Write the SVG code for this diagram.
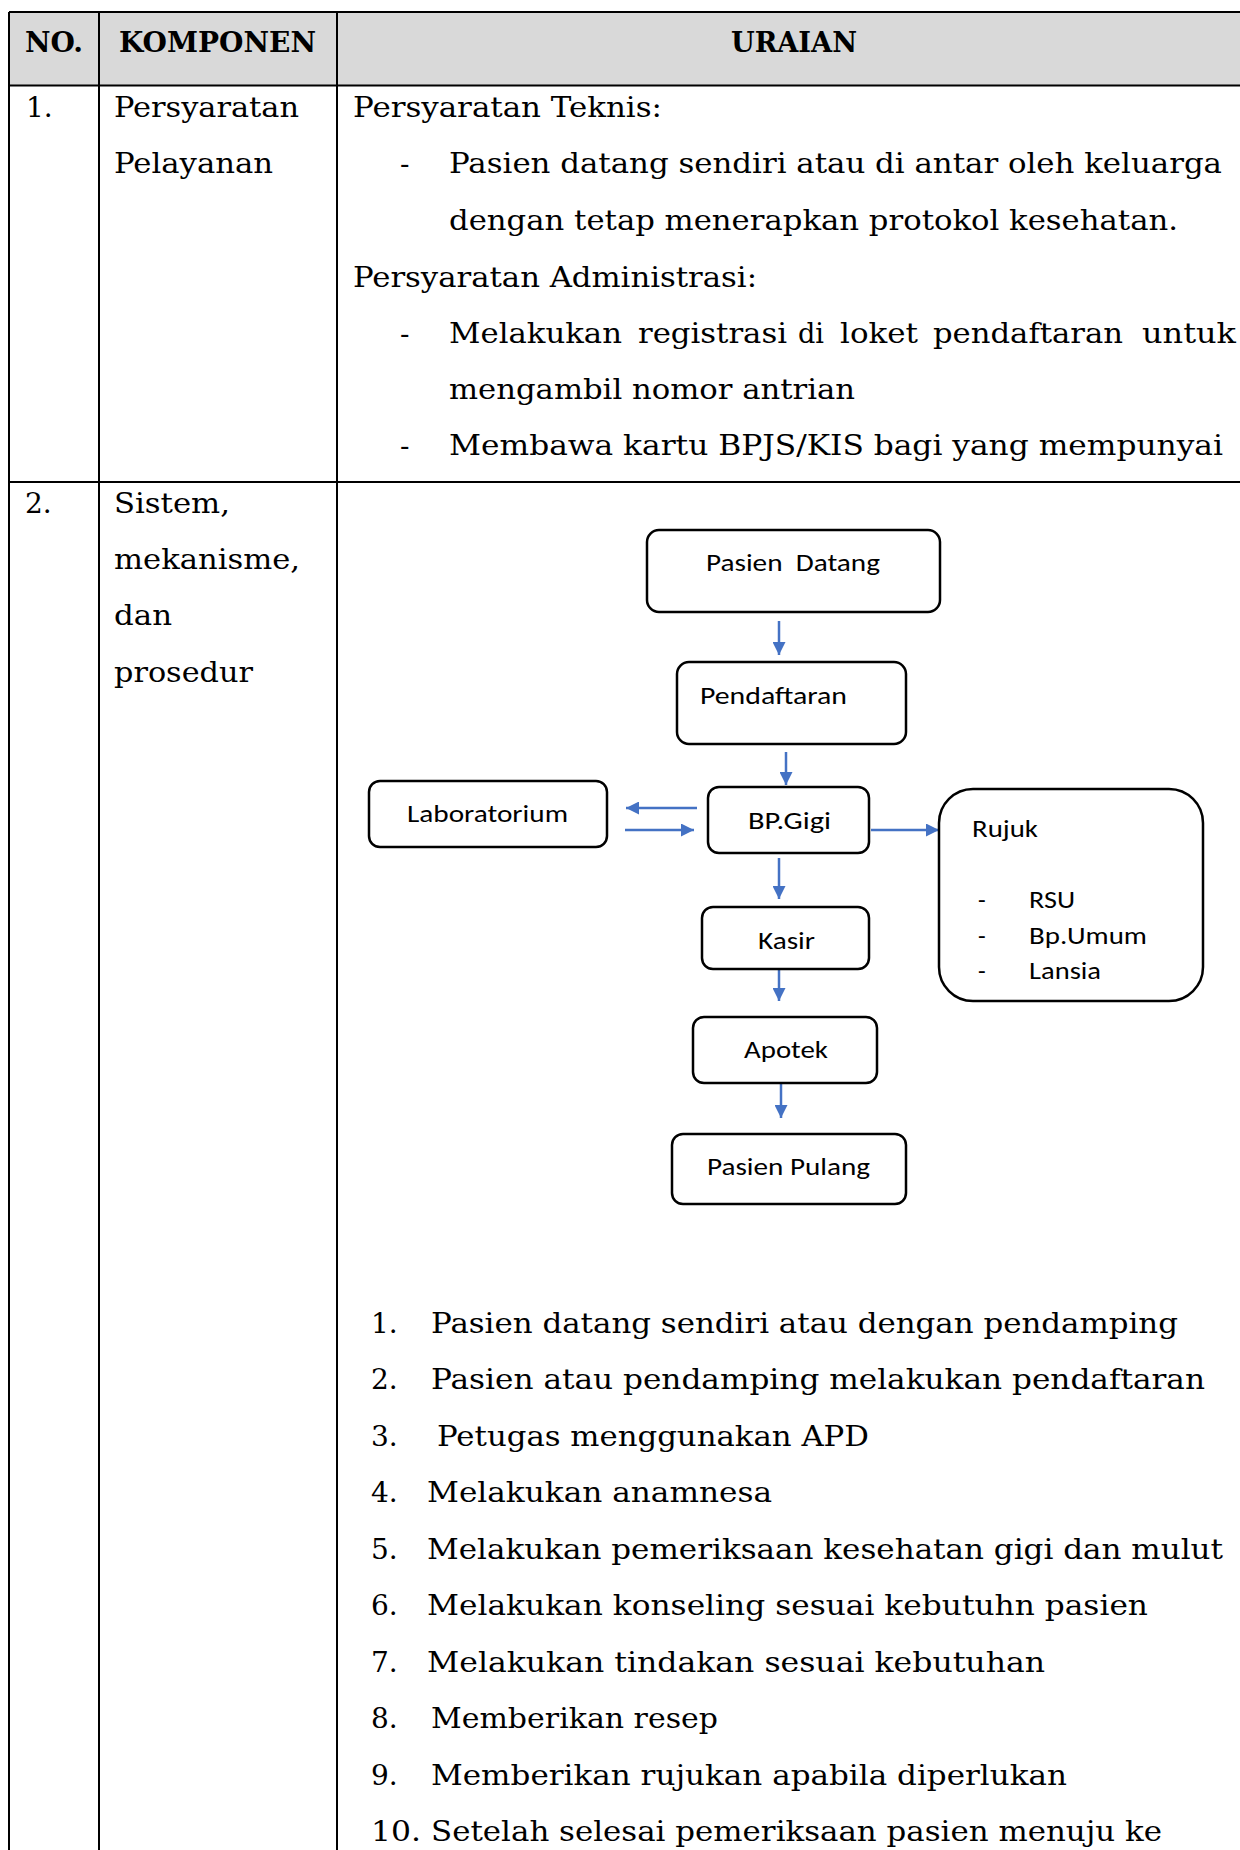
<svg xmlns="http://www.w3.org/2000/svg" width="1240" height="1850" viewBox="0 0 1240 1850">
<style>
.tbl{stroke:#000;stroke-width:2;fill:none}
.t{font-family:"DejaVu Serif","Liberation Serif",serif;font-size:28px;fill:#000}
.h{font-family:"DejaVu Serif","Liberation Serif",serif;font-size:28px;font-weight:bold;fill:#000}
.d{font-family:Carlito,"Liberation Sans",Arial,sans-serif;font-size:25px;fill:#000}
.box{fill:#fff;stroke:#000;stroke-width:2.5}
.arr{stroke:#4472C4;stroke-width:2.5;fill:none;marker-end:url(#ah)}
</style>
<defs>
<marker id="ah" viewBox="0 0 13 13" refX="13" refY="6.5" markerWidth="13" markerHeight="13" markerUnits="userSpaceOnUse" orient="auto">
<path d="M0,0 L13,6.5 L0,13 z" fill="#4472C4"/>
</marker>
</defs>
<rect x="0" y="0" width="1240" height="1850" fill="#fff"/>

<g id="table">
<rect x="9" y="12" width="1240" height="73" fill="#d9d9d9"/>
<path class="tbl" d="M9,12 H1240 M9,85.5 H1240 M9,482 H1240 M9,12 V1850 M99,12 V1850 M337,12 V1850"/>
<text class="h" x="25" y="52" textLength="58" lengthAdjust="spacingAndGlyphs">NO.</text>
<text class="h" x="119" y="52" textLength="197" lengthAdjust="spacingAndGlyphs">KOMPONEN</text>
<text class="h" x="731" y="52" textLength="126" lengthAdjust="spacingAndGlyphs">URAIAN</text>
</g>

<g id="row1">
<text class="t" x="26" y="117">1.</text>
<text class="t" x="114" y="117" textLength="185" lengthAdjust="spacingAndGlyphs">Persyaratan</text>
<text class="t" x="114" y="173" textLength="159" lengthAdjust="spacingAndGlyphs">Pelayanan</text>
<text class="t" x="353" y="117" textLength="309" lengthAdjust="spacingAndGlyphs">Persyaratan Teknis:</text>
<text class="t" x="400" y="173">-</text>
<text class="t" x="449" y="173" textLength="773" lengthAdjust="spacingAndGlyphs">Pasien datang sendiri atau di antar oleh keluarga</text>
<text class="t" x="449" y="230" textLength="729" lengthAdjust="spacingAndGlyphs">dengan tetap menerapkan protokol kesehatan.</text>
<text class="t" x="353" y="287" textLength="404" lengthAdjust="spacingAndGlyphs">Persyaratan Administrasi:</text>
<text class="t" x="400" y="343">-</text>
<text class="t" x="449" y="343" textLength="173" lengthAdjust="spacingAndGlyphs">Melakukan</text>
<text class="t" x="638" y="343" textLength="149" lengthAdjust="spacingAndGlyphs">registrasi</text>
<text class="t" x="798" y="343" textLength="26" lengthAdjust="spacingAndGlyphs">di</text>
<text class="t" x="840" y="343" textLength="78" lengthAdjust="spacingAndGlyphs">loket</text>
<text class="t" x="933" y="343" textLength="190" lengthAdjust="spacingAndGlyphs">pendaftaran</text>
<text class="t" x="1142" y="343" textLength="94" lengthAdjust="spacingAndGlyphs">untuk</text>
<text class="t" x="449" y="399" textLength="406" lengthAdjust="spacingAndGlyphs">mengambil nomor antrian</text>
<text class="t" x="400" y="455">-</text>
<text class="t" x="449" y="455" textLength="774" lengthAdjust="spacingAndGlyphs">Membawa kartu BPJS/KIS bagi yang mempunyai</text>
</g>

<g id="row2">
<text class="t" x="25" y="513">2.</text>
<text class="t" x="114" y="513" textLength="116" lengthAdjust="spacingAndGlyphs">Sistem,</text>
<text class="t" x="114" y="569" textLength="186" lengthAdjust="spacingAndGlyphs">mekanisme,</text>
<text class="t" x="114" y="625" textLength="58" lengthAdjust="spacingAndGlyphs">dan</text>
<text class="t" x="114" y="682" textLength="139" lengthAdjust="spacingAndGlyphs">prosedur</text>
</g>

<g id="connectors" transform="translate(-2,0)">
<line class="arr" x1="781" y1="621" x2="781" y2="655"/>
<line class="arr" x1="788" y1="752" x2="788" y2="785"/>
<line class="arr" x1="699" y1="808" x2="628" y2="808"/>
<line class="arr" x1="627" y1="830" x2="696" y2="830"/>
<line class="arr" x1="873" y1="830" x2="941" y2="830"/>
<line class="arr" x1="781" y1="858" x2="781" y2="899"/>
<line class="arr" x1="781" y1="969" x2="781" y2="1001"/>
<line class="arr" x1="783" y1="1084" x2="783" y2="1118"/>
</g>

<g id="node-pasien-datang" transform="translate(-2,0)">
<rect class="box" x="649" y="530" width="293" height="82" rx="12"/>
<text class="d" x="708" y="571" textLength="174" lengthAdjust="spacingAndGlyphs" xml:space="preserve">Pasien  Datang</text>
</g>
<g id="node-pendaftaran" transform="translate(-2,0)">
<rect class="box" x="679" y="662" width="229" height="82" rx="12"/>
<text class="d" x="702" y="704" textLength="147" lengthAdjust="spacingAndGlyphs">Pendaftaran</text>
</g>
<g id="node-laboratorium" transform="translate(-2,0)">
<rect class="box" x="371" y="781" width="238" height="66" rx="11"/>
<text class="d" x="409" y="822" textLength="161" lengthAdjust="spacingAndGlyphs">Laboratorium</text>
</g>
<g id="node-bpgigi" transform="translate(-2,0)">
<rect class="box" x="710" y="787" width="161" height="66" rx="11"/>
<text class="d" x="750" y="829" textLength="83" lengthAdjust="spacingAndGlyphs">BP.Gigi</text>
</g>
<g id="node-rujuk" transform="translate(-2,0)">
<rect class="box" x="941" y="789" width="264" height="212" rx="34"/>
<text class="d" x="974" y="837" textLength="66" lengthAdjust="spacingAndGlyphs">Rujuk</text>
<text class="d" x="980" y="908">-</text>
<text class="d" x="1031" y="908" textLength="46" lengthAdjust="spacingAndGlyphs">RSU</text>
<text class="d" x="980" y="944">-</text>
<text class="d" x="1031" y="944" textLength="118" lengthAdjust="spacingAndGlyphs">Bp.Umum</text>
<text class="d" x="980" y="979">-</text>
<text class="d" x="1031" y="979" textLength="72" lengthAdjust="spacingAndGlyphs">Lansia</text>
</g>
<g id="node-kasir" transform="translate(-2,0)">
<rect class="box" x="704" y="907" width="167" height="62" rx="11"/>
<text class="d" x="760" y="949" textLength="57" lengthAdjust="spacingAndGlyphs">Kasir</text>
</g>
<g id="node-apotek" transform="translate(-2,0)">
<rect class="box" x="695" y="1017" width="184" height="66" rx="11"/>
<text class="d" x="746" y="1058" textLength="84" lengthAdjust="spacingAndGlyphs">Apotek</text>
</g>
<g id="node-pasien-pulang" transform="translate(-2,0)">
<rect class="box" x="674" y="1134" width="234" height="70" rx="11"/>
<text class="d" x="709" y="1175" textLength="163" lengthAdjust="spacingAndGlyphs">Pasien Pulang</text>
</g>

<g id="steps">
<text class="t" x="371" y="1333">1.</text>
<text class="t" x="431" y="1333" textLength="747" lengthAdjust="spacingAndGlyphs">Pasien datang sendiri atau dengan pendamping</text>
<text class="t" x="371" y="1389">2.</text>
<text class="t" x="431" y="1389" textLength="774" lengthAdjust="spacingAndGlyphs">Pasien atau pendamping melakukan pendaftaran</text>
<text class="t" x="371" y="1446">3.</text>
<text class="t" x="437" y="1446" textLength="432" lengthAdjust="spacingAndGlyphs">Petugas menggunakan APD</text>
<text class="t" x="371" y="1502">4.</text>
<text class="t" x="427" y="1502" textLength="345" lengthAdjust="spacingAndGlyphs">Melakukan anamnesa</text>
<text class="t" x="371" y="1559">5.</text>
<text class="t" x="427" y="1559" textLength="796" lengthAdjust="spacingAndGlyphs">Melakukan pemeriksaan kesehatan gigi dan mulut</text>
<text class="t" x="371" y="1615">6.</text>
<text class="t" x="427" y="1615" textLength="721" lengthAdjust="spacingAndGlyphs">Melakukan konseling sesuai kebutuhn pasien</text>
<text class="t" x="371" y="1672">7.</text>
<text class="t" x="427" y="1672" textLength="618" lengthAdjust="spacingAndGlyphs">Melakukan tindakan sesuai kebutuhan</text>
<text class="t" x="371" y="1728">8.</text>
<text class="t" x="431" y="1728" textLength="287" lengthAdjust="spacingAndGlyphs">Memberikan resep</text>
<text class="t" x="371" y="1785">9.</text>
<text class="t" x="431" y="1785" textLength="636" lengthAdjust="spacingAndGlyphs">Memberikan rujukan apabila diperlukan</text>
<text class="t" x="371" y="1841" textLength="50" lengthAdjust="spacingAndGlyphs">10.</text>
<text class="t" x="431" y="1841" textLength="731" lengthAdjust="spacingAndGlyphs">Setelah selesai pemeriksaan pasien menuju ke</text>
</g>
</svg>
